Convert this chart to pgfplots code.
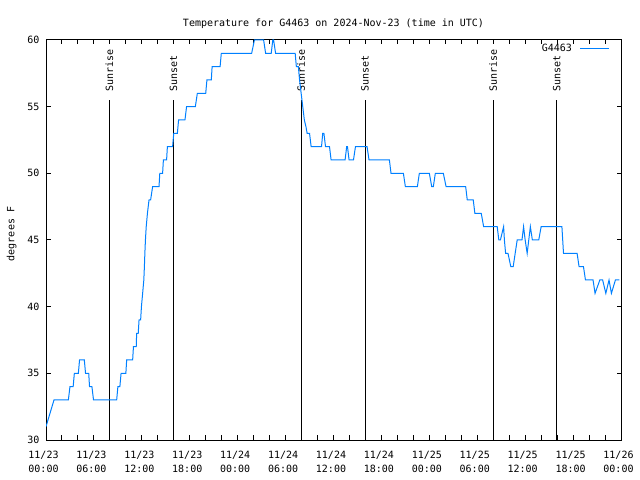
\documentclass[border=0pt]{standalone}
\usepackage{fontspec}
\setmainfont{DejaVu Sans Mono}
\usepackage{pgfplots}
\pgfplotsset{compat=1.18}
\definecolor{tline}{RGB}{0,128,255}
\newcommand\gf{\fontsize{10bp}{12bp}\selectfont}
\begin{document}
\begin{tikzpicture}
\path[use as bounding box] (0bp,0bp) rectangle (640bp,480bp);
\begin{axis}[
  at={(46bp,40bp)}, anchor=south west,
  scale only axis, width=575bp, height=400bp,
  xmin=0, xmax=72, ymin=30, ymax=60,
  xtick={0,6,...,72},
  minor xtick={0,2,...,72},
  xticklabels={{11/23\\00:00},{11/23\\06:00},{11/23\\12:00},{11/23\\18:00},{11/24\\00:00},{11/24\\06:00},{11/24\\12:00},{11/24\\18:00},{11/25\\00:00},{11/25\\06:00},{11/25\\12:00},{11/25\\18:00},{11/26\\00:00}},
  ytick={30,35,...,60},
  /pgf/number format/assume math mode=true,
  tick align=inside,
  major tick length=4.5bp, minor tick length=4.5bp,
  every tick/.style={black, line width=1bp},
  axis line style={line width=1bp, black},
  xticklabel style={font=\fontsize{10bp}{14bp}\selectfont, align=center, inner sep=0pt, yshift=-11bp, xshift=-2.5bp},
  yticklabel style={font=\gf, inner sep=0pt, xshift=-6.5bp},
  every axis title/.style={at={(0.5,1)}, anchor=base, yshift=13.5bp, font=\gf, inner sep=0pt},
  title={Temperature for G4463 on 2024-Nov-23 (time in UTC)},
  every axis y label/.style={at={(axis description cs:-0.0548,0.515)}, rotate=90, anchor=base, inner sep=0pt, font=\gf},
  ylabel={degrees F},
  legend plot pos=right,
  legend cell align=right,
  legend style={draw=none, fill=none, at={(0.981,0.99)}, anchor=north east, inner sep=0pt, font=\gf, nodes={inner sep=0pt}},
  legend image code/.code={\path (0bp,0bp); \draw[#1] (8bp,0bp) -- (37bp,0bp);},
]
\addplot[black, line width=1bp, forget plot] coordinates {(7.95,30) (7.95,55.5)};
\addplot[black, line width=1bp, forget plot] coordinates {(15.95,30) (15.95,55.5)};
\addplot[black, line width=1bp, forget plot] coordinates {(31.95,30) (31.95,55.5)};
\addplot[black, line width=1bp, forget plot] coordinates {(39.95,30) (39.95,55.5)};
\addplot[black, line width=1bp, forget plot] coordinates {(56.0,30) (56.0,55.5)};
\addplot[black, line width=1bp, forget plot] coordinates {(63.95,30) (63.95,55.5)};
\node[rotate=90, anchor=west, inner sep=0pt, font=\gf] at ([yshift=8bp]axis cs:7.95,55.5) {Sunrise};
\node[rotate=90, anchor=west, inner sep=0pt, font=\gf] at ([yshift=8bp]axis cs:15.95,55.5) {Sunset};
\node[rotate=90, anchor=west, inner sep=0pt, font=\gf] at ([yshift=8bp]axis cs:31.95,55.5) {Sunrise};
\node[rotate=90, anchor=west, inner sep=0pt, font=\gf] at ([yshift=8bp]axis cs:39.95,55.5) {Sunset};
\node[rotate=90, anchor=west, inner sep=0pt, font=\gf] at ([yshift=8bp]axis cs:56.0,55.5) {Sunrise};
\node[rotate=90, anchor=west, inner sep=0pt, font=\gf] at ([yshift=8bp]axis cs:63.95,55.5) {Sunset};
\addplot[tline, line width=1bp] coordinates {
(0,31)(0.5,32)(1.0,33)(2.8,33)(3.0,34)(3.4,34)(3.55,35)(4.05,35)(4.2,36)(4.8,36)(4.95,35)(5.35,35)(5.45,34)(5.75,34)(5.95,33)(8.85,33)(9.0,34)(9.25,34)(9.4,35)(10.0,35)(10.1,36)(10.85,36)(10.95,37)(11.3,37)(11.35,38)(11.55,38)(11.65,39)(11.85,39)(11.95,40)(12.1,41)(12.25,42)(12.32,43)(12.38,44)(12.45,45)(12.55,46)(12.7,47)(12.9,48)(13.1,48)(13.35,49)(14.15,49)(14.25,50)(14.6,50)(14.7,51)(15.1,51)(15.2,52)(15.85,52)(16.0,53)(16.45,53)(16.6,54)(17.4,54)(17.6,55)(18.7,55)(18.95,56)(20.0,56)(20.15,57)(20.7,57)(20.8,58)(21.8,58)(21.95,59)(25.75,59)(26.1,60)(27.25,60)(27.5,59)(28.2,59)(28.4,60)(28.5,60)(28.75,59)(31.2,59)(31.35,58)(31.6,58)(31.75,57)(31.95,56)(32.15,55)(32.35,54)(32.55,53.5)(32.7,53)(33.0,53)(33.2,52)(34.5,52)(34.65,53)(34.8,53)(35.0,52)(35.5,52)(35.7,51)(37.45,51)(37.65,52)(37.75,52)(37.95,51)(38.5,51)(38.75,52)(40.2,52)(40.45,51)(43.0,51)(43.2,50)(44.75,50)(45.0,49)(46.5,49)(46.75,50)(48.0,50)(48.3,49)(48.5,49)(48.75,50)(49.75,50)(50.1,49)(52.55,49)(52.75,48)(53.5,48)(53.7,47)(54.5,47)(54.8,46)(56.5,46)(56.7,45)(56.9,45)(57.3,46)(57.4,45)(57.55,44)(57.85,44)(58.2,43)(58.5,43)(58.75,44)(59.0,45)(59.6,45)(59.8,46)(60.0,45)(60.25,44)(60.45,45)(60.65,46)(60.9,45)(61.7,45)(62.0,46)(64.6,46)(64.8,44)(66.5,44)(66.75,43)(67.3,43)(67.55,42)(68.5,42)(68.75,41)(69.35,42)(69.7,42)(70.1,41)(70.5,42)(70.8,41)(71.3,42)(71.8,42)
};
\addlegendentry{G4463}
\end{axis}
\end{tikzpicture}
\end{document}
